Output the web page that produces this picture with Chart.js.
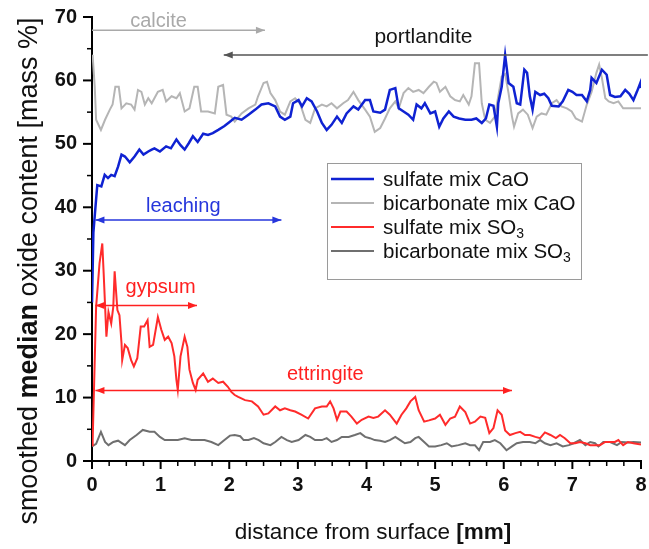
<!DOCTYPE html>
<html>
<head>
<meta charset="utf-8">
<script src="https://cdn.jsdelivr.net/npm/chart.js@4.4.0/dist/chart.umd.min.js"></script>
<style>
  body { margin: 0; background: #fff; }
  #wrap { width: 649px; height: 549px; }
</style>
</head>
<body>
<div id="wrap"><canvas id="profileChart" width="649" height="549"></canvas></div>
<script>
// distance [mm], median oxide content [mass %]
const sulfateCaO = [[0,25],[0.02,36],[0.05,40],[0.077,43.5],[0.136,43.3],[0.185,45.1],[0.233,44.6],[0.28,45.1],[0.33,44.9],[0.38,46.4],[0.43,48.3],[0.48,48.0],[0.55,47.1],[0.62,48.0],[0.69,49.1],[0.75,48.3],[0.82,48.8],[0.87,49.1],[0.91,49.3],[0.99,48.8],[1.08,49.6],[1.15,49.3],[1.23,50.7],[1.29,49.8],[1.35,49.1],[1.41,50.1],[1.47,51.2],[1.54,50.3],[1.62,51.6],[1.69,51.4],[1.76,51.7],[1.84,52.2],[1.93,52.8],[2.0,53.4],[2.08,54.1],[2.18,53.8],[2.28,54.6],[2.38,55.4],[2.47,56.2],[2.57,56.4],[2.67,55.9],[2.74,54.3],[2.81,53.8],[2.89,54.3],[2.93,56.4],[3.01,56.9],[3.06,55.9],[3.13,57.2],[3.2,56.7],[3.28,55.1],[3.35,53.3],[3.42,52.2],[3.49,53.0],[3.57,54.3],[3.64,53.3],[3.71,54.8],[3.81,55.9],[3.88,55.4],[3.98,56.9],[4.05,56.9],[4.1,55.1],[4.2,54.9],[4.27,55.4],[4.34,58.5],[4.42,58.8],[4.47,55.6],[4.54,55.1],[4.61,54.6],[4.68,53.8],[4.73,56.2],[4.8,55.6],[4.85,56.4],[4.93,54.8],[5.0,55.1],[5.06,52.7],[5.12,54.0],[5.2,55.1],[5.27,54.3],[5.35,54.0],[5.44,53.8],[5.53,53.8],[5.6,54.0],[5.68,53.3],[5.74,54.0],[5.79,56.2],[5.85,56.0],[5.9,52.7],[5.92,56.4],[5.97,59.0],[6.02,64.0],[6.07,59.6],[6.14,59.0],[6.19,56.4],[6.24,56.2],[6.3,61.7],[6.34,61.2],[6.38,57.5],[6.42,55.4],[6.46,58.2],[6.53,57.7],[6.59,57.9],[6.65,57.2],[6.7,56.0],[6.8,55.9],[6.86,56.7],[6.94,58.5],[7.0,58.2],[7.06,57.7],[7.14,57.7],[7.21,56.7],[7.26,58.5],[7.28,60.4],[7.35,59.6],[7.43,61.7],[7.5,60.9],[7.55,57.7],[7.62,57.4],[7.7,57.5],[7.77,58.5],[7.83,57.9],[7.89,56.9],[7.94,58.2],[7.99,59.6],[8.0,58.8]];

const bicarbonateCaO = [[0,64],[0.01,63.8],[0.04,59],[0.06,53.8],[0.13,52.2],[0.19,53.8],[0.26,55.4],[0.3,56.2],[0.34,59],[0.39,59],[0.43,55.6],[0.5,56.4],[0.57,56.2],[0.62,55.4],[0.67,58.5],[0.72,58.2],[0.77,56.2],[0.82,57.2],[0.87,56.4],[0.96,58.2],[1.03,58.5],[1.08,56.7],[1.16,57.5],[1.23,57.2],[1.28,58.0],[1.35,55.1],[1.42,55.6],[1.49,59.0],[1.54,59.0],[1.59,55.1],[1.69,55.1],[1.79,54.8],[1.84,59.0],[1.91,59.3],[1.96,54.6],[2.03,54.3],[2.08,53.5],[2.18,54.8],[2.28,55.6],[2.38,56.2],[2.42,57.5],[2.5,59.6],[2.55,59.8],[2.6,58.0],[2.67,56.9],[2.74,55.1],[2.81,54.6],[2.89,56.7],[2.96,57.2],[3.03,56.4],[3.11,53.8],[3.18,53.3],[3.25,55.6],[3.35,56.2],[3.42,55.9],[3.49,56.4],[3.57,55.6],[3.66,56.4],[3.73,56.9],[3.81,58.2],[3.88,56.9],[3.98,55.4],[4.05,54.3],[4.12,51.9],[4.2,52.5],[4.27,54.0],[4.34,55.6],[4.42,56.7],[4.47,55.6],[4.54,58.0],[4.61,58.8],[4.68,58.2],[4.76,58.5],[4.83,58.0],[4.91,59.0],[4.98,59.8],[5.02,59.6],[5.07,58.2],[5.15,59.0],[5.22,57.5],[5.29,56.9],[5.36,56.7],[5.41,57.7],[5.49,56.2],[5.53,57.5],[5.58,62.7],[5.64,62.7],[5.68,56.4],[5.73,53.8],[5.8,53.3],[5.87,54.3],[5.92,57.5],[5.97,60.6],[6.02,61.0],[6.07,58.0],[6.12,54.3],[6.15,52.7],[6.21,54.8],[6.28,55.4],[6.35,54.6],[6.42,52.5],[6.48,54.3],[6.55,54.8],[6.62,54.6],[6.7,56.4],[6.77,56.9],[6.84,55.9],[6.92,55.6],[6.99,55.1],[7.05,54.0],[7.14,53.5],[7.21,56.2],[7.28,58.2],[7.35,61.2],[7.39,62.5],[7.43,60.4],[7.48,57.2],[7.53,56.7],[7.6,56.4],[7.67,56.7],[7.74,55.6],[7.83,55.6],[8.0,55.6]];

const sulfateSO3 = [[0,2.5],[0.01,3.3],[0.06,24.3],[0.11,31.2],[0.15,34.3],[0.17,29.6],[0.21,19.6],[0.24,23.5],[0.28,21.7],[0.31,24.3],[0.33,29.9],[0.37,23.8],[0.4,23.0],[0.43,18.6],[0.44,15.9],[0.48,18.3],[0.52,17.8],[0.57,15.9],[0.61,14.9],[0.66,16.2],[0.71,21.2],[0.76,21.2],[0.81,22.2],[0.84,18.0],[0.89,18.3],[0.96,22.7],[1.01,20.7],[1.06,19.1],[1.11,19.6],[1.16,18.6],[1.2,16.5],[1.23,12.8],[1.25,11.2],[1.29,16.5],[1.35,19.6],[1.39,18.0],[1.42,14.4],[1.47,12.3],[1.51,11.2],[1.54,12.8],[1.62,13.8],[1.69,12.5],[1.76,13.0],[1.84,12.3],[1.91,12.5],[1.98,11.7],[2.03,10.9],[2.08,10.4],[2.13,10.1],[2.23,9.6],[2.33,9.4],[2.42,8.6],[2.5,7.3],[2.57,7.5],[2.67,8.6],[2.74,8.0],[2.81,8.3],[2.89,8.0],[2.96,7.8],[3.05,7.3],[3.15,6.7],[3.25,8.3],[3.35,8.6],[3.42,8.6],[3.47,9.4],[3.52,8.3],[3.57,6.5],[3.62,7.8],[3.71,7.8],[3.78,7.0],[3.86,5.9],[3.93,6.5],[4.03,7.0],[4.1,6.8],[4.17,7.0],[4.27,8.0],[4.34,7.3],[4.44,5.9],[4.51,7.3],[4.58,8.3],[4.64,9.4],[4.71,10.1],[4.76,8.0],[4.84,6.2],[4.91,6.4],[5.0,6.7],[5.07,7.3],[5.15,5.7],[5.22,6.7],[5.29,7.0],[5.36,8.6],[5.44,7.7],[5.51,5.9],[5.58,6.2],[5.66,7.0],[5.73,6.8],[5.79,4.4],[5.85,5.2],[5.91,8.0],[5.97,7.3],[6.02,4.8],[6.09,4.1],[6.17,4.4],[6.24,4.6],[6.31,4.1],[6.38,4.1],[6.46,3.8],[6.53,3.6],[6.6,4.5],[6.68,4.1],[6.76,3.6],[6.82,4.1],[6.89,3.6],[6.97,2.8],[7.04,2.8],[7.11,3.0],[7.19,2.8],[7.26,2.5],[7.33,2.5],[7.4,2.5],[7.48,3.0],[7.55,3.0],[7.62,3.0],[7.67,3.3],[7.74,2.5],[7.81,3.0],[7.89,2.8],[8.0,2.6]];

const bicarbonateSO3 = [[0,2.3],[0.06,2.7],[0.13,4.6],[0.19,3.0],[0.24,2.5],[0.31,3.0],[0.38,3.2],[0.48,2.5],[0.55,3.3],[0.65,4.1],[0.74,4.9],[0.84,4.6],[0.91,4.6],[0.99,3.8],[1.06,3.3],[1.16,3.3],[1.25,3.3],[1.35,3.6],[1.45,3.3],[1.55,3.3],[1.64,3.3],[1.74,3.0],[1.84,2.5],[1.93,3.3],[2.01,4.0],[2.08,4.1],[2.16,3.9],[2.21,3.3],[2.28,3.3],[2.36,3.6],[2.43,3.3],[2.5,2.8],[2.6,2.5],[2.67,3.0],[2.76,3.8],[2.84,3.3],[2.91,3.0],[3.01,3.3],[3.11,4.1],[3.18,3.8],[3.25,3.3],[3.35,3.3],[3.42,3.6],[3.49,3.0],[3.57,3.3],[3.64,3.8],[3.74,3.8],[3.83,4.1],[3.91,4.4],[3.98,3.8],[4.05,3.6],[4.12,3.3],[4.2,3.2],[4.27,3.0],[4.34,3.3],[4.42,3.8],[4.49,3.3],[4.56,2.8],[4.64,3.0],[4.71,3.6],[4.76,3.8],[4.84,3.0],[4.91,2.3],[5.0,2.3],[5.09,2.5],[5.17,2.8],[5.24,2.3],[5.34,2.5],[5.44,2.8],[5.51,2.5],[5.58,2.5],[5.64,1.7],[5.7,3.0],[5.8,3.0],[5.87,3.3],[5.95,2.8],[6.04,1.7],[6.12,2.3],[6.19,2.8],[6.28,3.0],[6.38,3.0],[6.46,2.8],[6.53,3.3],[6.6,2.8],[6.68,2.5],[6.77,2.8],[6.86,2.3],[6.95,2.5],[7.02,2.8],[7.11,3.3],[7.19,2.5],[7.26,3.0],[7.33,2.8],[7.38,2.3],[7.45,3.0],[7.55,3.0],[7.65,2.5],[7.72,3.0],[7.82,2.9],[7.89,3.0],[8.0,2.9]];

const seriesLabels = ['sulfate mix CaO', 'bicarbonate mix CaO', 'sulfate mix SO3', 'bicarbonate mix SO3'];
const seriesColors = ['#0f22d2', '#b5b5b5', '#ff2b2b', '#6f6f6f'];

// phase annotations: text position and arrow extent in data units
const phaseNotes = [
    { text: 'calcite',     tx: 0.97, ty: 69.3, x0: 0,    x1: 2.52, y: 67.9, color: '#a9a9a9', text_color: '#a9a9a9', both: false },
    { text: 'portlandite', tx: 4.83, ty: 66.8, x0: 8.1,  x1: 1.92, y: 64.0, color: '#555555', text_color: '#151515', both: false },
    { text: 'leaching',    tx: 1.33, ty: 40.1, x0: 0.05, x1: 2.76, y: 38.0, color: '#2636dc', text_color: '#2636dc', both: true },
    { text: 'gypsum',      tx: 1.00, ty: 27.4, x0: 0.05, x1: 1.53, y: 24.5, color: '#ff2020', text_color: '#ff2020', both: true },
    { text: 'ettringite',  tx: 3.40, ty: 13.6, x0: 0.05, x1: 6.12, y: 11.1, color: '#ff2020', text_color: '#ff2020', both: true }
];

const toPoints = arr => arr.map(p => ({ x: p[0], y: p[1] }));

function drawHead(ctx, x, y, dir) {
    ctx.beginPath();
    ctx.moveTo(x, y);
    ctx.lineTo(x - dir * 9, y - 3.5);
    ctx.lineTo(x - dir * 9, y + 3.5);
    ctx.closePath();
    ctx.fill();
}

function drawMixed(ctx, parts, cx, cy) {
    let total = 0;
    parts.forEach(p => { ctx.font = p.font; total += ctx.measureText(p.t).width; });
    let x = cx - total / 2;
    parts.forEach(p => {
        ctx.font = p.font;
        ctx.fillText(p.t, x, cy);
        x += ctx.measureText(p.t).width;
    });
}

const extrasPlugin = {
    id: 'extras',
    afterDraw(chart) {
        const ctx = chart.ctx;
        const xs = chart.scales.x;
        const ys = chart.scales.y;
        const area = chart.chartArea;
        ctx.save();

        // major and minor ticks
        ctx.strokeStyle = '#000';
        for (let v = 0; v <= 8.001; v += 0.25) {
            const px = xs.getPixelForValue(v);
            const major = Math.abs(v - Math.round(v)) < 0.01;
            ctx.lineWidth = major ? 2 : 1.5;
            ctx.beginPath();
            ctx.moveTo(px, area.bottom);
            ctx.lineTo(px, area.bottom + (major ? 8 : 5));
            ctx.stroke();
        }
        for (let v = 0; v <= 70; v += 5) {
            const py = ys.getPixelForValue(v);
            const major = v % 10 === 0;
            ctx.lineWidth = major ? 2 : 1.5;
            ctx.beginPath();
            ctx.moveTo(area.left, py);
            ctx.lineTo(area.left - (major ? 9 : 5), py);
            ctx.stroke();
        }

        // phase arrows and labels
        phaseNotes.forEach(n => {
            const y = ys.getPixelForValue(n.y);
            const a = xs.getPixelForValue(n.x0);
            const b = xs.getPixelForValue(n.x1);
            ctx.strokeStyle = n.color;
            ctx.fillStyle = n.color;
            ctx.lineWidth = 1.5;
            ctx.beginPath();
            ctx.moveTo(a, y);
            ctx.lineTo(b, y);
            ctx.stroke();
            const dir = b > a ? 1 : -1;
            drawHead(ctx, b, y, dir);
            if (n.both) drawHead(ctx, a, y, -dir);
            ctx.fillStyle = n.text_color;
            ctx.font = (n.text === 'portlandite' ? '21px' : '20px') + ' "Liberation Sans", Arial, sans-serif';
            ctx.textAlign = 'center';
            ctx.textBaseline = 'middle';
            ctx.fillText(n.text, xs.getPixelForValue(n.tx), ys.getPixelForValue(n.ty));
        });

        // legend box
        const lx = 327, ly = 163, lw = 254, lh = 116;
        ctx.fillStyle = '#fff';
        ctx.fillRect(lx, ly, lw, lh);
        ctx.strokeStyle = '#9a9a9a';
        ctx.lineWidth = 1;
        ctx.strokeRect(lx + 0.5, ly + 0.5, lw, lh);
        ctx.textAlign = 'left';
        ctx.textBaseline = 'middle';
        seriesLabels.forEach((lab, i) => {
            const yy = 179 + i * 24;
            ctx.strokeStyle = seriesColors[i];
            ctx.lineWidth = i === 0 ? 2.5 : 2;
            ctx.beginPath();
            ctx.moveTo(331, yy);
            ctx.lineTo(374, yy);
            ctx.stroke();
            ctx.fillStyle = '#111';
            ctx.font = '20.5px "Liberation Sans", Arial, sans-serif';
            let base = lab, sub = '';
            if (lab.endsWith('SO3')) { base = lab.slice(0, -1); sub = '3'; }
            ctx.fillText(base, 383, yy + 1);
            if (sub) {
                const w = ctx.measureText(base).width;
                ctx.font = '14px "Liberation Sans", Arial, sans-serif';
                ctx.fillText(sub, 383 + w, yy + 7);
            }
        });

        // axis titles with bold parts
        ctx.fillStyle = '#111';
        ctx.textAlign = 'left';
        ctx.textBaseline = 'middle';
        const reg = '22.5px "Liberation Sans", Arial, sans-serif';
        const bold = 'bold 22.5px "Liberation Sans", Arial, sans-serif';
        drawMixed(ctx, [{ t: 'distance from surface ', font: reg }, { t: '[mm]', font: bold }], 373, 533);

        ctx.translate(30, 271);
        ctx.rotate(-Math.PI / 2);
        const reg2 = '27px "Liberation Sans", Arial, sans-serif';
        const bold2 = 'bold 27px "Liberation Sans", Arial, sans-serif';
        drawMixed(ctx, [
            { t: 'smoothed ', font: reg2 },
            { t: 'median', font: bold2 },
            { t: ' oxide content [mass %]', font: reg2 }
        ], 0, 0);
        ctx.restore();
    }
};

const seriesData = [sulfateCaO, bicarbonateCaO, sulfateSO3, bicarbonateSO3];

new Chart(document.getElementById('profileChart'), {
    type: 'line',
    data: {
        datasets: seriesData.map((s, i) => ({
            label: seriesLabels[i],
            data: toPoints(s),
            borderColor: seriesColors[i],
            borderWidth: i === 0 ? 2.5 : 2,
            pointRadius: 0,
            tension: 0,
            fill: false
        }))
    },
    options: {
        responsive: false,
        animation: false,
        layout: { padding: { left: 0, right: 8, top: 17, bottom: 0 } },
        plugins: {
            legend: { display: false },
            tooltip: { enabled: false }
        },
        scales: {
            x: {
                type: 'linear',
                min: 0,
                max: 8,
                grid: { display: false, drawTicks: false },
                border: { display: true, color: '#000', width: 2 },
                ticks: {
                    stepSize: 1,
                    padding: 12,
                    color: '#111',
                    font: { family: '"Liberation Sans", Arial, sans-serif', size: 20, weight: 'bold' }
                },
                afterFit(scale) {
                    scale.height = 88;
                    scale.paddingLeft = 0;
                    scale.paddingRight = 0;
                }
            },
            y: {
                min: 0,
                max: 70,
                grid: { display: false, drawTicks: false },
                border: { display: true, color: '#000', width: 2 },
                ticks: {
                    stepSize: 10,
                    padding: 15,
                    color: '#111',
                    font: { family: '"Liberation Sans", Arial, sans-serif', size: 20, weight: 'bold' }
                },
                afterFit(scale) {
                    scale.width = 92;
                    scale.paddingTop = 0;
                    scale.paddingBottom = 0;
                }
            }
        }
    },
    plugins: [extrasPlugin]
});
</script>
</body>
</html>
